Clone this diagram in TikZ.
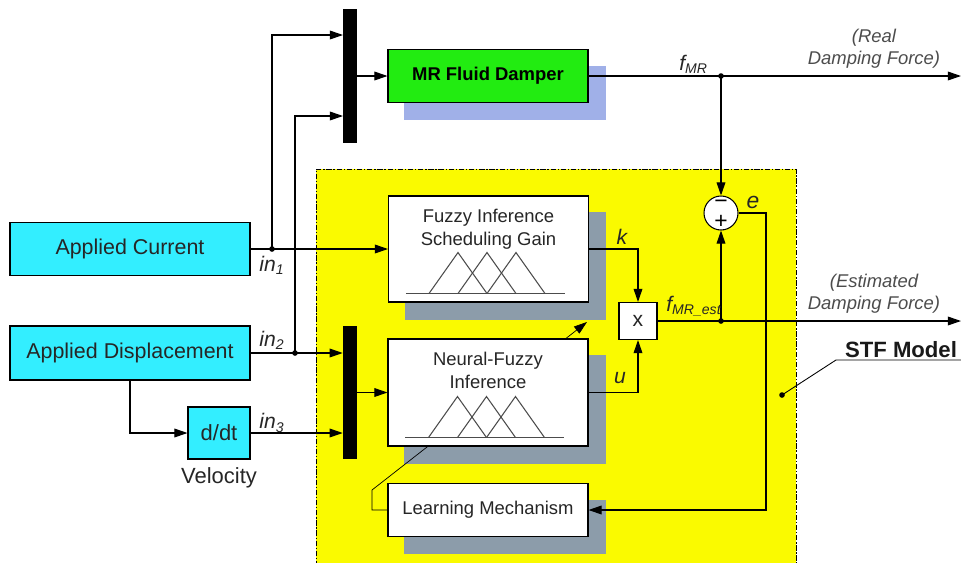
\documentclass[tikz,border=0pt]{standalone}
\usepackage{fontspec}
\setmainfont{Liberation Sans}
\usepackage{xcolor}
\usetikzlibrary{arrows.meta, positioning, calc, backgrounds}

\definecolor{boxcyan}{RGB}{51,238,255}
\definecolor{dampgreen}{RGB}{34,236,17}
\definecolor{stfyellow}{RGB}{250,250,0}
\definecolor{gridblue}{RGB}{160,176,232}
\definecolor{gridgray}{RGB}{140,156,170}

\begin{document}
\begin{tikzpicture}[
    x=0.02cm, y=-0.02cm,
    line width=0.6pt,
    >={Triangle[length=7.5pt, width=5pt]},
    inbox/.style={rectangle, draw, fill=boxcyan, inner sep=0pt, text=black!85, font=\fontsize{12.2}{14}\selectfont},
    fbox/.style={rectangle, draw, fill=white, inner sep=0pt, minimum width=4cm, text=black!85, font=\fontsize{10.5}{13}\selectfont},
    ftext/.style={align=center, text=black!85, font=\fontsize{10.5}{13}\selectfont},
    mux/.style={rectangle, fill=black, inner sep=0pt, minimum width=0.27cm},
    dot/.style={circle, fill, inner sep=0pt, minimum size=3.2pt},
    mf/.style={line width=0.6pt, black!70},
    sig/.style={text=black!85, font=\fontsize{12}{14}\selectfont\itshape},
    note/.style={align=center, text=black!70, font=\fontsize{10.5}{12.5}\selectfont\itshape},
    stfarea/.style={rectangle, draw, fill=stfyellow, line width=0.5pt, dash pattern=on 3pt off 1pt on 0.8pt off 1pt, minimum width=9.6cm, minimum height=8.02cm}
]
\useasboundingbox (0,0) rectangle (961,562);

\node[inbox, minimum width=4.8cm, minimum height=1.06cm] (current) at (130,249) {Applied Current};
\node[inbox, minimum width=4.8cm, minimum height=1.08cm] (disp) at (130,353) {Applied Displacement};
\node[inbox, minimum width=1.24cm, minimum height=1.04cm, font=\fontsize{12.5}{14}\selectfont] (ddt) at (219,433) {d/dt};
\node[below=1pt of ddt, text=black!85, font=\fontsize{12.5}{14}\selectfont] (vel) {Velocity};

\node[mux, minimum height=2.68cm] (muxA) at (350,76) {};
\node[mux, minimum height=2.66cm] (muxB) at (350,392.5) {};

\node[rectangle, draw, fill=dampgreen, inner sep=0pt, minimum width=4cm, minimum height=1.06cm, font=\fontsize{10.5}{13}\selectfont\bfseries] (damper) at (488,76) {MR Fluid Damper};
\node[fbox, minimum height=2.12cm] (gain) at (488.5,249) {};
\node[ftext, below=4pt of gain.north] (gaintext) {Fuzzy Inference\\Scheduling Gain};
\node[fbox, minimum height=2.14cm] (nf) at (488,392.5) {};
\node[ftext, below=4pt of nf.north] (nftext) {Neural-Fuzzy\\Inference};
\node[fbox, minimum height=1.06cm] (learn) at (488,510) {Learning Mechanism};
\node[fbox, minimum width=0.76cm, minimum height=0.74cm, font=\fontsize{12}{14}\selectfont] (mult) at (638,321) {x};
\node[circle, draw, fill=white, inner sep=0pt, minimum size=0.68cm] (sum) at (721,213) {};
\node[inner sep=0pt, font=\fontsize{13}{14}\selectfont] (minus) at (721,204) {−};
\node[inner sep=0pt, font=\fontsize{13}{14}\selectfont] (plus) at (721,222) {+};

\foreach \b in {gain, nf} {
  \draw[mf] ($(\b.south west)+(18,-9)$) -- ($(\b.south west)+(177,-9)$);
  \foreach \i in {0,1,2}
    \draw[mf] ($(\b.south west)+(41+29*\i,-9)$) -- ++(29,-41) -- ++(29,41);
}

\node[dot] (jA) at (272,249) {};
\node[dot] (jB) at (295,353) {};
\node[dot] (jF) at (721,76) {};
\node[dot] (jE) at (721,321) {};
\coordinate (inA1) at (343,35);
\coordinate (inA2) at (343,116);
\coordinate (outF) at (961,76);
\coordinate (outE) at (961,321);
\coordinate (eknee) at (766,510);
\coordinate (lk1) at (372,490);
\coordinate (lk2) at (587,322);

\draw[->] (current) -- (gain);
\draw[->] (jA.center) |- (inA1);
\draw[->] (disp.east) -- (disp.east -| muxB.west);
\draw[->] (jB.center) |- (inA2);
\draw[->] (disp.south) |- (ddt.west);
\draw[->] (ddt.east) -- (ddt.east -| muxB.west);
\draw[->] (muxA.east) -- (damper.west);
\draw[->] (muxB.east) -- (nf.west);
\draw[->] (damper.east) -- (outF);
\draw[->] (jF.center) -- (sum.north);
\draw[->] (gain.east) -| (mult.north);
\draw[->] (nf.east) -| (mult.south);
\draw[->] (mult.east) -- (outE);
\draw[->] (jE.center) -- (sum.south);
\draw[->] (sum.east) -| (eknee) -- (learn.east);

\node[sig, anchor=west] (in1) at (253,265) {in\textsubscript{1}};
\node[sig, anchor=west] (in2) at (253,340) {in\textsubscript{2}};
\node[sig, anchor=west] (in3) at (253,423) {in\textsubscript{3}};
\node[sig, anchor=west] (fmr) at (673,64) {f\textsubscript{MR}};
\node[sig, anchor=west] (fest) at (660,306) {f\textsubscript{MR\_est}};
\node[sig] (klab) at (622,237) {k};
\node[sig] (ulab) at (620,378) {u};
\node[sig, font=\fontsize{13}{14}\selectfont\itshape] (elab) at (753,202) {e};
\node[note] (real) at (874,49) {(Real\\Damping Force)};
\node[note] (est) at (874,294) {(Estimated\\Damping Force)};

\node[text=black!90, font=\fontsize{12.6}{14}\selectfont\bfseries] (stf) at (901,350) {STF Model};
\node[dot] (stfdot) at (782,395) {};
\coordinate (stfknee) at (836,360);
\draw[line width=0.5pt] (stfdot.center) -- (stfknee) -- (stfknee -| stf.east);

\begin{pgfonlayer}{background}
\node[stfarea] (stfbox) at (556,369.5) {};
\fill[gridblue] ($(damper.north west)+(17,17)$) rectangle ($(damper.south east)+(17,17)$);
\foreach \b in {gain, nf, learn}
  \fill[gridgray] ($(\b.north west)+(17,17)$) rectangle ($(\b.south east)+(17,17)$);
\draw[->] (learn.west) -| (lk1) -- (lk2);
\end{pgfonlayer}

\end{tikzpicture}
\end{document}
